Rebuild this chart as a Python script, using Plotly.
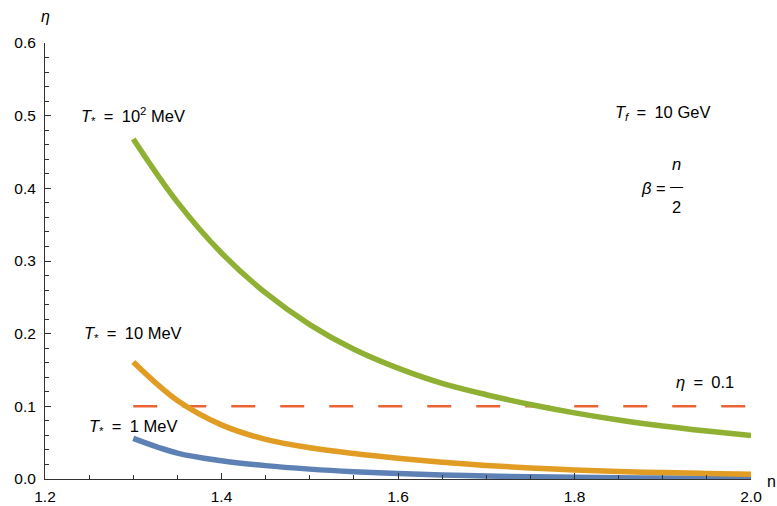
import plotly.graph_objects as go

n_vals = [1.30, 1.35, 1.40, 1.45, 1.50, 1.55, 1.60, 1.65, 1.70, 1.75, 1.80, 1.85, 1.90, 1.95, 2.00]
eta_1MeV = [0.056, 0.0357, 0.0252, 0.0184, 0.0136, 0.0100, 0.0074, 0.0055, 0.0041, 0.0031, 0.0023, 0.0017, 0.0013, 0.0010, 0.0008]
eta_10MeV = [0.161, 0.108, 0.0745, 0.0545, 0.0430, 0.0352, 0.0287, 0.0232, 0.0187, 0.0152, 0.0125, 0.0104, 0.0088, 0.0076, 0.0066]
eta_100MeV = [0.468, 0.381, 0.311, 0.256, 0.2125, 0.1785, 0.1525, 0.1315, 0.1160, 0.1025, 0.0910, 0.0812, 0.0730, 0.0660, 0.0597]
eta_threshold = 0.1
x_ticks = [1.2, 1.4, 1.6, 1.8, 2.0]
y_ticks = [0.0, 0.1, 0.2, 0.3, 0.4, 0.5, 0.6]

BLUE = "#5E81B5"
ORANGE = "#E19C24"
GREEN = "#8FB032"
RED = "#EB6235"
FONT = "Liberation Sans, Arial, sans-serif"
SP = "\u2002"

fig = go.Figure()
fig.add_trace(go.Scatter(x=[n_vals[0], n_vals[-1]], y=[eta_threshold, eta_threshold], mode="lines",
                         line=dict(color=RED, width=2.5, dash="24px,25px"), hoverinfo="skip"))
for ys, c in [(eta_1MeV, BLUE), (eta_10MeV, ORANGE), (eta_100MeV, GREEN)]:
    fig.add_trace(go.Scatter(x=n_vals, y=ys, mode="lines",
                             line=dict(color=c, width=5.5, shape="spline", smoothing=1.0)))

ann = [
    dict(x=1.3, y=0.5, text=f"<i>T</i><sub>*</sub>{SP}={SP}10<sup>2</sup> MeV"),
    dict(x=1.3, y=0.2, text=f"<i>T</i><sub>*</sub>{SP}={SP}10 MeV"),
    dict(x=1.3, y=0.072, text=f"<i>T</i><sub>*</sub>{SP}={SP}1 MeV"),
    dict(x=1.8995, y=0.503, text=f"<i>T</i><sub><i>f</i></sub>{SP}={SP}10 GeV"),
    dict(x=1.948, y=0.133, text=f"<i>η</i>{SP}={SP}0.1"),
]
TF = dict(family=FONT, size=16.5, color="black")
annotations = []
for a in ann:
    annotations.append(dict(x=a["x"], y=a["y"], xref="x", yref="y", text=a["text"], showarrow=False,
                            font=TF, xanchor="center", yanchor="middle"))
# beta = n/2
annotations += [
    dict(x=1.9054, y=0.401, xref="x", yref="y", text="<i>β</i> =", showarrow=False, xanchor="right", yanchor="middle",
         font=TF),
    dict(x=1.9154, y=0.433, xref="x", yref="y", text="<i>n</i>", showarrow=False, xanchor="center", yanchor="middle",
         font=TF),
    dict(x=1.9154, y=0.403, xref="x", yref="y", text="—", showarrow=False, xanchor="center", yanchor="middle",
         font=dict(family=FONT, size=13, color="black")),
    dict(x=1.9154, y=0.374, xref="x", yref="y", text="2", showarrow=False, xanchor="center", yanchor="middle",
         font=TF),
    dict(x=0, y=1.0, xref="paper", yref="paper", text="<i>η</i>", showarrow=False, xanchor="center", yanchor="bottom",
         yshift=16, font=dict(family=FONT, size=16, color="black")),
    dict(x=1.0, y=0, xref="paper", yref="paper", text="n", showarrow=False, xanchor="left", yanchor="middle",
         xshift=14, yshift=-2, font=dict(family=FONT, size=16, color="black")),
]

axis_common = dict(showline=True, linecolor="#333", linewidth=1, ticks="inside", tickcolor="#333",
                   ticklen=6, tickwidth=1, showgrid=False, zeroline=False, tickformat=".1f", automargin=False,
                   tickfont=dict(family=FONT, size=15.5, color="black"))
fig.update_layout(
    width=777, height=506,
    margin=dict(l=45, r=26, t=43, b=27),
    paper_bgcolor="white", plot_bgcolor="white",
    showlegend=False,
    annotations=annotations,
    xaxis=dict(range=[1.2, 2.0], tickvals=x_ticks, ticklabelstandoff=3,
               minor=dict(dtick=0.05, tick0=1.2, ticks="inside", ticklen=4, tickcolor="#333", showgrid=False),
               **axis_common),
    yaxis=dict(range=[0, 0.6], tickvals=y_ticks, ticklabelstandoff=5,
               minor=dict(dtick=0.02, tick0=0, ticks="inside", ticklen=4, tickcolor="#333", showgrid=False),
               **axis_common),
)
fig.write_html("out.html", config={"displayModeBar": False},
               post_script="document.body.style.margin='0';document.body.style.overflow='hidden';")
